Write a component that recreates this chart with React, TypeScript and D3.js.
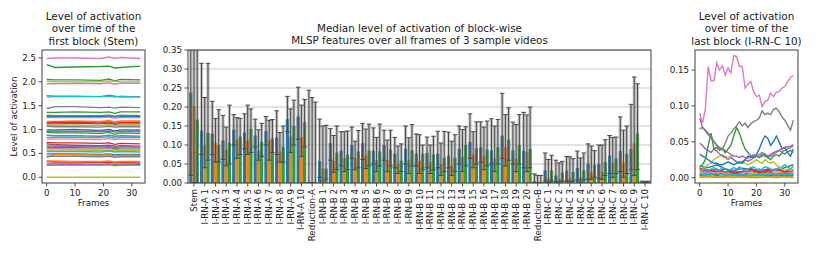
import React from "react";
import * as d3 from "d3";

// ---------------- Middle chart data ----------------
const CATEGORIES = [
  "Stem",
  "I-RN-A 1", "I-RN-A 2", "I-RN-A 3", "I-RN-A 4", "I-RN-A 5", "I-RN-A 6", "I-RN-A 7", "I-RN-A 8", "I-RN-A 9", "I-RN-A 10",
  "Reduction-A",
  "I-RN-B 1", "I-RN-B 2", "I-RN-B 3", "I-RN-B 4", "I-RN-B 5", "I-RN-B 6", "I-RN-B 7", "I-RN-B 8", "I-RN-B 9", "I-RN-B 10",
  "I-RN-B 11", "I-RN-B 12", "I-RN-B 13", "I-RN-B 14", "I-RN-B 15", "I-RN-B 16", "I-RN-B 17", "I-RN-B 18", "I-RN-B 19", "I-RN-B 20",
  "Reduction-B",
  "I-RN-C 1", "I-RN-C 2", "I-RN-C 3", "I-RN-C 4", "I-RN-C 5", "I-RN-C 6", "I-RN-C 7", "I-RN-C 8", "I-RN-C 9", "I-RN-C 10",
];

const MEDIAN_V1 = [0.238, 0.138, 0.130, 0.112, 0.140, 0.133, 0.125, 0.137, 0.120, 0.168, 0.175, 0.003,
  0.058, 0.105, 0.085, 0.100, 0.105, 0.085, 0.100, 0.077, 0.090, 0.077, 0.079, 0.077, 0.072, 0.090, 0.108, 0.094, 0.086, 0.125, 0.086, 0.085,
  0.005, 0.033, 0.020, 0.033, 0.040, 0.051, 0.050, 0.072, 0.084, 0.090, 0.001];
const MEDIAN_V2 = [0.203, 0.100, 0.105, 0.088, 0.115, 0.112, 0.085, 0.112, 0.083, 0.122, 0.120, 0.002,
  0.038, 0.058, 0.065, 0.065, 0.072, 0.060, 0.060, 0.050, 0.060, 0.058, 0.055, 0.050, 0.045, 0.069, 0.075, 0.072, 0.064, 0.094, 0.064, 0.081,
  0.002, 0.012, 0.010, 0.012, 0.015, 0.028, 0.030, 0.053, 0.055, 0.104, 0.001];
const MEDIAN_V3 = [0.167, 0.132, 0.100, 0.106, 0.122, 0.142, 0.108, 0.117, 0.095, 0.150, 0.160, 0.002,
  0.038, 0.080, 0.075, 0.083, 0.085, 0.083, 0.088, 0.059, 0.086, 0.077, 0.075, 0.066, 0.066, 0.100, 0.092, 0.088, 0.094, 0.114, 0.100, 0.090,
  0.003, 0.033, 0.028, 0.029, 0.033, 0.047, 0.055, 0.064, 0.077, 0.130, 0.001];

const HIGH_V1 = [0.45, 0.315, 0.215, 0.178, 0.180, 0.182, 0.168, 0.175, 0.190, 0.228, 0.252, 0.244,
  0.168, 0.143, 0.135, 0.147, 0.157, 0.145, 0.139, 0.120, 0.150, 0.129, 0.121, 0.136, 0.134, 0.150, 0.182, 0.161, 0.169, 0.236, 0.160, 0.186,
  0.024, 0.079, 0.060, 0.070, 0.084, 0.103, 0.100, 0.125, 0.174, 0.207, 0.005];
const HIGH_V2 = [0.42, 0.225, 0.170, 0.147, 0.172, 0.205, 0.140, 0.165, 0.133, 0.195, 0.205, 0.225,
  0.150, 0.125, 0.135, 0.110, 0.142, 0.120, 0.113, 0.097, 0.119, 0.127, 0.100, 0.105, 0.110, 0.141, 0.135, 0.147, 0.150, 0.180, 0.154, 0.179,
  0.020, 0.062, 0.053, 0.069, 0.066, 0.097, 0.100, 0.120, 0.139, 0.279, 0.004];
const HIGH_V3 = [0.40, 0.315, 0.193, 0.205, 0.170, 0.195, 0.157, 0.167, 0.150, 0.218, 0.220, 0.213,
  0.152, 0.150, 0.137, 0.138, 0.155, 0.155, 0.139, 0.103, 0.154, 0.100, 0.123, 0.136, 0.127, 0.148, 0.161, 0.163, 0.167, 0.198, 0.180, 0.200,
  0.020, 0.073, 0.057, 0.064, 0.079, 0.085, 0.114, 0.121, 0.150, 0.261, 0.005];

const LOW_V1 = [0.020, 0.075, 0.075, 0.062, 0.100, 0.090, 0.095, 0.100, 0.075, 0.135, 0.115, 0.0,
  0.015, 0.060, 0.045, 0.065, 0.062, 0.050, 0.060, 0.040, 0.050, 0.045, 0.040, 0.040, 0.040, 0.050, 0.065, 0.055, 0.050, 0.065, 0.050, 0.040,
  0.0, 0.005, 0.003, 0.005, 0.008, 0.010, 0.012, 0.025, 0.030, 0.035, 0.0];
const LOW_V2 = [0.0, 0.040, 0.055, 0.045, 0.065, 0.075, 0.060, 0.060, 0.055, 0.080, 0.070, 0.0,
  0.005, 0.028, 0.030, 0.035, 0.038, 0.030, 0.030, 0.025, 0.025, 0.025, 0.025, 0.020, 0.020, 0.030, 0.040, 0.035, 0.030, 0.045, 0.030, 0.030,
  0.0, 0.002, 0.002, 0.003, 0.003, 0.010, 0.010, 0.015, 0.015, 0.020, 0.0];
const LOW_V3 = [0.0, 0.060, 0.055, 0.050, 0.075, 0.080, 0.070, 0.080, 0.055, 0.100, 0.095, 0.0,
  0.010, 0.035, 0.035, 0.040, 0.045, 0.045, 0.045, 0.030, 0.045, 0.035, 0.035, 0.030, 0.030, 0.045, 0.050, 0.045, 0.050, 0.060, 0.050, 0.040,
  0.0, 0.005, 0.005, 0.005, 0.008, 0.015, 0.020, 0.025, 0.025, 0.035, 0.0];

const MID_Y_TICKS = [0, 0.05, 0.1, 0.15, 0.2, 0.25, 0.3, 0.35];

// ---------------- Left chart data (Stem, per-channel over frames) ----------------
const LEFT_FRAMES = [0, 3, 10, 19, 22, 24, 26, 33];
const LEFT_SERIES: number[][] = [
  [2.49, 2.50, 2.50, 2.49, 2.52, 2.49, 2.51, 2.49],
  [2.36, 2.30, 2.31, 2.32, 2.33, 2.29, 2.30, 2.33],
  [2.05, 2.04, 2.04, 2.03, 2.06, 2.02, 2.05, 2.04],
  [2.01, 2.00, 2.00, 2.00, 2.02, 2.01, 2.00, 2.00],
  [1.96, 1.96, 1.97, 1.96, 1.98, 1.95, 1.97, 1.97],
  [1.71, 1.70, 1.70, 1.69, 1.72, 1.70, 1.68, 1.69],
  [1.68, 1.69, 1.69, 1.69, 1.70, 1.68, 1.70, 1.68],
  [1.44, 1.48, 1.48, 1.46, 1.47, 1.45, 1.47, 1.46],
  [1.36, 1.36, 1.37, 1.36, 1.37, 1.34, 1.37, 1.37],
  [1.30, 1.29, 1.29, 1.29, 1.30, 1.28, 1.30, 1.29],
  [1.27, 1.27, 1.27, 1.27, 1.28, 1.26, 1.27, 1.28],
  [1.25, 1.25, 1.25, 1.25, 1.26, 1.24, 1.25, 1.25],
  [1.17, 1.17, 1.18, 1.17, 1.19, 1.16, 1.18, 1.18],
  [1.14, 1.15, 1.15, 1.14, 1.16, 1.13, 1.15, 1.15],
  [1.12, 1.12, 1.13, 1.12, 1.13, 1.11, 1.12, 1.12],
  [1.09, 1.09, 1.09, 1.08, 1.10, 1.08, 1.09, 1.09],
  [1.07, 1.06, 1.06, 1.05, 1.07, 1.05, 1.06, 1.06],
  [0.99, 0.99, 1.00, 0.98, 1.00, 0.97, 0.99, 0.99],
  [0.96, 0.96, 0.96, 0.96, 0.97, 0.95, 0.96, 0.96],
  [0.94, 0.93, 0.93, 0.92, 0.94, 0.90, 0.93, 0.92],
  [0.88, 0.87, 0.87, 0.86, 0.88, 0.86, 0.87, 0.86],
  [0.83, 0.84, 0.84, 0.83, 0.85, 0.82, 0.84, 0.84],
  [0.80, 0.80, 0.80, 0.79, 0.81, 0.79, 0.80, 0.80],
  [0.73, 0.72, 0.72, 0.71, 0.72, 0.69, 0.71, 0.70],
  [0.70, 0.68, 0.67, 0.66, 0.67, 0.65, 0.66, 0.65],
  [0.66, 0.65, 0.65, 0.64, 0.65, 0.63, 0.64, 0.64],
  [0.63, 0.62, 0.62, 0.61, 0.62, 0.60, 0.61, 0.61],
  [0.60, 0.60, 0.59, 0.59, 0.60, 0.58, 0.59, 0.59],
  [0.57, 0.57, 0.57, 0.56, 0.57, 0.55, 0.56, 0.56],
  [0.54, 0.54, 0.54, 0.53, 0.55, 0.53, 0.54, 0.53],
  [0.49, 0.49, 0.49, 0.48, 0.49, 0.47, 0.48, 0.48],
  [0.41, 0.48, 0.47, 0.46, 0.47, 0.45, 0.46, 0.46],
  [0.44, 0.44, 0.44, 0.43, 0.44, 0.42, 0.43, 0.43],
  [0.33, 0.32, 0.32, 0.31, 0.32, 0.30, 0.31, 0.30],
  [0.34, 0.34, 0.33, 0.33, 0.34, 0.32, 0.33, 0.33],
  [0.28, 0.28, 0.28, 0.27, 0.28, 0.26, 0.27, 0.27],
  [0.25, 0.25, 0.25, 0.25, 0.26, 0.24, 0.25, 0.25],
  [0.26, 0.26, 0.27, 0.26, 0.27, 0.25, 0.26, 0.26],
  [0.00, 0.00, 0.00, 0.00, 0.00, 0.00, 0.00, 0.00],
];
// tab10 colour index per left series
const LEFT_COLOR_IDX = [6, 2, 2, 8, 6, 4, 9, 7, 2, 4, 0, 6, 1, 3, 5, 8, 7, 0, 4, 2, 7, 9, 6, 3, 5, 4, 2, 6, 8, 9, 0, 1, 7, 3, 1, 2, 8, 4, 8];
const LEFT_Y_TICKS = [0, 0.5, 1.0, 1.5, 2.0, 2.5];
const FRAME_TICKS = [0, 10, 20, 30];

// ---------------- Right chart data (I-RN-C 10) ----------------
const RIGHT_FRAMES_FULL = d3.range(34);
const RIGHT_PINK = [0.090, 0.076, 0.095, 0.155, 0.135, 0.135, 0.160, 0.150, 0.156, 0.143, 0.153, 0.146, 0.170, 0.169, 0.155, 0.155, 0.125,
  0.130, 0.134, 0.120, 0.113, 0.115, 0.099, 0.106, 0.108, 0.118, 0.113, 0.119, 0.120, 0.125, 0.127, 0.134, 0.140, 0.142];
const RIGHT_GREY = [0.068, 0.070, 0.066, 0.062, 0.058, 0.050, 0.046, 0.042, 0.040, 0.048, 0.058, 0.062, 0.068, 0.072, 0.078, 0.072, 0.076,
  0.070, 0.075, 0.078, 0.080, 0.083, 0.093, 0.088, 0.090, 0.088, 0.095, 0.097, 0.092, 0.085, 0.080, 0.073, 0.066, 0.080];
const RIGHT_PURPLE_A = [0.083, 0.070, 0.065, 0.060, 0.055, 0.050, 0.045, 0.040, 0.040, 0.038, 0.035, 0.032, 0.030, 0.030, 0.028, 0.030, 0.028,
  0.027, 0.030, 0.032, 0.030, 0.032, 0.035, 0.033, 0.030, 0.032, 0.035, 0.037, 0.038, 0.040, 0.042, 0.043, 0.044, 0.046];
const RIGHT_PURPLE_B = [0.048, 0.045, 0.040, 0.038, 0.035, 0.040, 0.037, 0.033, 0.030, 0.028, 0.025, 0.028, 0.025, 0.022, 0.020, 0.022, 0.025,
  0.023, 0.025, 0.027, 0.030, 0.028, 0.030, 0.032, 0.028, 0.030, 0.033, 0.035, 0.038, 0.036, 0.038, 0.040, 0.042, 0.044];
const RIGHT_GREEN = [0.015, 0.018, 0.025, 0.045, 0.062, 0.040, 0.042, 0.038, 0.040, 0.035, 0.040, 0.045, 0.058, 0.070, 0.062, 0.050, 0.040,
  0.035, 0.030, 0.028, 0.030, 0.028, 0.032, 0.030, 0.028, 0.025, 0.030, 0.032, 0.030, 0.035, 0.033, 0.036, 0.038, 0.035];
const RIGHT_BLUE = [0.033, 0.030, 0.028, 0.025, 0.022, 0.020, 0.020, 0.018, 0.018, 0.020, 0.022, 0.020, 0.018, 0.020, 0.022, 0.020, 0.025,
  0.030, 0.028, 0.030, 0.032, 0.040, 0.050, 0.058, 0.055, 0.045, 0.050, 0.058, 0.050, 0.040, 0.042, 0.035, 0.030, 0.040];
const RIGHT_OLIVE = [0.010, 0.012, 0.015, 0.018, 0.020, 0.025, 0.028, 0.030, 0.032, 0.030, 0.028, 0.030, 0.025, 0.022, 0.020, 0.022, 0.020,
  0.018, 0.020, 0.022, 0.025, 0.022, 0.020, 0.025, 0.022, 0.020, 0.022, 0.018, 0.015, 0.012, 0.010, 0.012, 0.010, 0.012];
const RIGHT_CYAN = [0.017, 0.015, 0.012, 0.010, 0.012, 0.014, 0.012, 0.010, 0.015, 0.012, 0.010, 0.012, 0.014, 0.012, 0.015, 0.012, 0.010,
  0.012, 0.014, 0.015, 0.012, 0.010, 0.012, 0.015, 0.014, 0.012, 0.010, 0.012, 0.014, 0.015, 0.018, 0.015, 0.012, 0.016];

const RIGHT_FRAMES_SPARSE = [0, 3, 6, 9, 12, 15, 18, 21, 24, 27, 30, 33];
const RIGHT_SMALL: number[][] = [
  [0.010, 0.008, 0.012, 0.006, 0.009, 0.007, 0.010, 0.006, 0.008, 0.005, 0.007, 0.006],
  [0.006, 0.010, 0.005, 0.008, 0.004, 0.007, 0.005, 0.009, 0.004, 0.006, 0.008, 0.005],
  [0.003, 0.005, 0.004, 0.006, 0.003, 0.004, 0.002, 0.005, 0.003, 0.004, 0.003, 0.004],
  [0.016, 0.014, 0.018, 0.012, 0.010, 0.013, 0.011, 0.009, 0.012, 0.010, 0.014, 0.018],
  [0.012, 0.009, 0.011, 0.008, 0.010, 0.007, 0.009, 0.012, 0.008, 0.010, 0.009, 0.011],
  [0.004, 0.006, 0.003, 0.005, 0.007, 0.004, 0.006, 0.003, 0.005, 0.004, 0.006, 0.003],
  [0.008, 0.006, 0.009, 0.005, 0.007, 0.008, 0.006, 0.004, 0.006, 0.005, 0.007, 0.008],
  [0.002, 0.003, 0.001, 0.002, 0.003, 0.002, 0.001, 0.003, 0.002, 0.001, 0.002, 0.002],
  [0.001, 0.002, 0.001, 0.001, 0.002, 0.001, 0.001, 0.002, 0.001, 0.001, 0.001, 0.001],
  [0.005, 0.004, 0.006, 0.003, 0.005, 0.004, 0.003, 0.005, 0.004, 0.006, 0.004, 0.005],
  [0.013, 0.011, 0.008, 0.012, 0.006, 0.009, 0.013, 0.007, 0.010, 0.012, 0.008, 0.010],
  [0.000, 0.001, 0.000, 0.001, 0.000, 0.001, 0.000, 0.000, 0.001, 0.000, 0.001, 0.000],
];
const RIGHT_SMALL_COLOR_IDX = [3, 1, 5, 0, 4, 2, 6, 7, 8, 9, 3, 1];
const RIGHT_Y_TICKS = [0, 0.05, 0.1, 0.15];

const TAB10 = ["#1f77b4", "#ff7f0e", "#2ca02c", "#d62728", "#9467bd", "#8c564b", "#e377c2", "#7f7f7f", "#bcbd22", "#17becf"];

const FONT = "DejaVu Sans, Liberation Sans, sans-serif";
const TICK_FS = 8.7;
const TITLE_FS = 10.4;
const TXT = "#222";
const SPINE = "#3c3c3c";

const TOP = 50;
const BOTTOM = 183;

function Frame({ x0, x1 }: { x0: number; x1: number }) {
  return <rect x={x0} y={TOP} width={x1 - x0} height={BOTTOM - TOP} fill="none" stroke={SPINE} strokeWidth={1} />;
}

function Title({ cx, lines, y0 }: { cx: number; lines: string[]; y0: number }) {
  return (
    <text x={cx} y={y0} textAnchor="middle" fontFamily={FONT} fontSize={TITLE_FS} fill={TXT}>
      {lines.map((l, i) => (
        <tspan key={i} x={cx} dy={i === 0 ? 0 : 12.4}>
          {l}
        </tspan>
      ))}
    </text>
  );
}

export default function App() {
  // ---- Left panel ----
  const lx0 = 42, lx1 = 145;
  const lxs = d3.scaleLinear().domain([-1.65, 34.65]).range([lx0, lx1]);
  const lys = d3.scaleLinear().domain([-0.12, 2.667]).range([BOTTOM, TOP]);
  const leftLine = d3
    .line<[number, number]>()
    .x((d) => lxs(d[0]))
    .y((d) => lys(d[1]));

  // ---- Middle panel ----
  const mx0 = 188, mx1 = 651;
  const mxs = d3.scaleLinear().domain([-0.56, CATEGORIES.length - 1 + 0.56]).range([mx0, mx1]);
  const mys = d3.scaleLinear().domain([0, 0.35]).range([BOTTOM, TOP]);
  const bw = 0.3;
  const videos = [
    { med: MEDIAN_V1, lo: LOW_V1, hi: HIGH_V1, color: TAB10[0], off: -bw },
    { med: MEDIAN_V2, lo: LOW_V2, hi: HIGH_V2, color: TAB10[1], off: 0 },
    { med: MEDIAN_V3, lo: LOW_V3, hi: HIGH_V3, color: TAB10[2], off: bw },
  ];

  // ---- Right panel ----
  const rx0 = 695, rx1 = 798;
  const rxs = d3.scaleLinear().domain([-1.65, 34.65]).range([rx0, rx1]);
  const rys = d3.scaleLinear().domain([-0.0075, 0.178]).range([BOTTOM, TOP]);
  const rightLine = d3
    .line<[number, number]>()
    .x((d) => rxs(d[0]))
    .y((d) => rys(d[1]));
  const rightFull = [
    { v: RIGHT_CYAN, c: TAB10[9] },
    { v: RIGHT_OLIVE, c: TAB10[8] },
    { v: RIGHT_PURPLE_B, c: TAB10[4] },
    { v: RIGHT_BLUE, c: TAB10[0] },
    { v: RIGHT_GREEN, c: TAB10[2] },
    { v: RIGHT_PURPLE_A, c: TAB10[4] },
    { v: RIGHT_GREY, c: TAB10[7] },
    { v: RIGHT_PINK, c: TAB10[6] },
  ];

  return (
    <svg
      width={822}
      height={253}
      style={{ position: "absolute", left: 0, top: 0, background: "#fff" }}
      fontFamily={FONT}
    >
      <defs>
        <clipPath id="clipL">
          <rect x={lx0} y={TOP} width={lx1 - lx0} height={BOTTOM - TOP} />
        </clipPath>
        <clipPath id="clipM">
          <rect x={mx0} y={TOP} width={mx1 - mx0} height={BOTTOM - TOP} />
        </clipPath>
        <clipPath id="clipR">
          <rect x={rx0} y={TOP} width={rx1 - rx0} height={BOTTOM - TOP} />
        </clipPath>
      </defs>
      <rect x={0} y={0} width={822} height={253} fill="#fff" />

      {/* ================= Left panel ================= */}
      <Title cx={(lx0 + lx1) / 2} y0={20} lines={["Level of activation", "over time of the", "first block (Stem)"]} />
      <g clipPath="url(#clipL)">
        {LEFT_SERIES.map((s, i) => (
          <path
            key={i}
            d={leftLine(s.map((v, j) => [LEFT_FRAMES[j], v] as [number, number])) || ""}
            fill="none"
            stroke={TAB10[LEFT_COLOR_IDX[i] % 10]}
            strokeWidth={1.4}
          />
        ))}
      </g>
      <Frame x0={lx0} x1={lx1} />
      {LEFT_Y_TICKS.map((t) => (
        <g key={t}>
          <line x1={lx0 - 3.5} x2={lx0} y1={lys(t)} y2={lys(t)} stroke={SPINE} strokeWidth={0.9} />
          <text x={lx0 - 6} y={lys(t)} dy="0.35em" textAnchor="end" fontSize={TICK_FS} fill={TXT}>
            {t.toFixed(1)}
          </text>
        </g>
      ))}
      {FRAME_TICKS.map((t) => (
        <g key={t}>
          <line x1={lxs(t)} x2={lxs(t)} y1={BOTTOM} y2={BOTTOM + 3.5} stroke={SPINE} strokeWidth={0.9} />
          <text x={lxs(t)} y={BOTTOM + 13} textAnchor="middle" fontSize={TICK_FS} fill={TXT}>
            {t}
          </text>
        </g>
      ))}
      <text x={(lx0 + lx1) / 2} y={206} textAnchor="middle" fontSize={TICK_FS} fill={TXT}>
        Frames
      </text>
      <text
        transform={`translate(17,${(TOP + BOTTOM) / 2}) rotate(-90)`}
        textAnchor="middle"
        fontSize={TICK_FS}
        fill={TXT}
      >
        Level of activation
      </text>

      {/* ================= Middle panel ================= */}
      <Title
        cx={(mx0 + mx1) / 2}
        y0={32}
        lines={["Median level of activation of block-wise", "MLSP features over all frames of 3 sample videos"]}
      />
      {MID_Y_TICKS.map((t) => (
        <line key={"g" + t} x1={mx0} x2={mx1} y1={mys(t)} y2={mys(t)} stroke="#c8c8c8" strokeWidth={1} />
      ))}
      <g clipPath="url(#clipM)">
        {videos.map((vd, k) => (
          <g key={"b" + k}>
            {CATEGORIES.map((c, i) => {
              const xa = mxs(i + vd.off - bw / 2);
              const xb = mxs(i + vd.off + bw / 2);
              return (
                <rect key={c} x={xa} y={mys(vd.med[i])} width={xb - xa} height={mys(0) - mys(vd.med[i])} fill={vd.color} />
              );
            })}
          </g>
        ))}
        {videos.map((vd, k) => (
          <g key={"r" + k}>
            {CATEGORIES.map((c, i) => {
              const xa = mxs(i + vd.off - bw / 2);
              const xb = mxs(i + vd.off + bw / 2);
              return (
                <rect
                  key={c}
                  x={xa}
                  y={mys(vd.hi[i])}
                  width={xb - xa}
                  height={mys(vd.lo[i]) - mys(vd.hi[i])}
                  fill="#808080"
                  fillOpacity={0.45}
                />
              );
            })}
          </g>
        ))}
        {videos.map((vd, k) => (
          <g key={"e" + k} stroke="#474747" strokeWidth={1}>
            {CATEGORIES.map((c, i) => {
              const xc = mxs(i + vd.off);
              const yh = mys(vd.hi[i]);
              const yl = mys(vd.lo[i]);
              return (
                <g key={c}>
                  <line x1={xc} x2={xc} y1={yh} y2={yl} />
                  <line x1={xc - 2.3} x2={xc + 2.3} y1={yh} y2={yh} />
                  <line x1={xc - 2.3} x2={xc + 2.3} y1={yl} y2={yl} />
                </g>
              );
            })}
          </g>
        ))}
      </g>
      <Frame x0={mx0} x1={mx1} />
      {MID_Y_TICKS.map((t) => (
        <g key={t}>
          <line x1={mx0 - 3.5} x2={mx0} y1={mys(t)} y2={mys(t)} stroke={SPINE} strokeWidth={0.9} />
          <text x={mx0 - 6} y={mys(t)} dy="0.35em" textAnchor="end" fontSize={TICK_FS} fill={TXT}>
            {t.toFixed(2)}
          </text>
        </g>
      ))}
      {CATEGORIES.map((c, i) => (
        <g key={c}>
          <line x1={mxs(i)} x2={mxs(i)} y1={BOTTOM} y2={BOTTOM + 3.5} stroke={SPINE} strokeWidth={0.9} />
          <text
            transform={`translate(${mxs(i)},${BOTTOM + 6}) rotate(-90)`}
            dy="0.35em"
            textAnchor="end"
            fontSize={TICK_FS}
            fill={TXT}
          >
            {c}
          </text>
        </g>
      ))}

      {/* ================= Right panel ================= */}
      <Title cx={(rx0 + rx1) / 2} y0={20} lines={["Level of activation", "over time of the", "last block (I-RN-C 10)"]} />
      <g clipPath="url(#clipR)">
        {RIGHT_SMALL.map((s, i) => (
          <path
            key={"s" + i}
            d={rightLine(s.map((v, j) => [RIGHT_FRAMES_SPARSE[j], v] as [number, number])) || ""}
            fill="none"
            stroke={TAB10[RIGHT_SMALL_COLOR_IDX[i]]}
            strokeWidth={1.4}
          />
        ))}
        {rightFull.map((s, i) => (
          <path
            key={"f" + i}
            d={rightLine(s.v.map((v, j) => [RIGHT_FRAMES_FULL[j], v] as [number, number])) || ""}
            fill="none"
            stroke={s.c}
            strokeWidth={1.4}
          />
        ))}
      </g>
      <Frame x0={rx0} x1={rx1} />
      {RIGHT_Y_TICKS.map((t) => (
        <g key={t}>
          <line x1={rx0 - 3.5} x2={rx0} y1={rys(t)} y2={rys(t)} stroke={SPINE} strokeWidth={0.9} />
          <text x={rx0 - 6} y={rys(t)} dy="0.35em" textAnchor="end" fontSize={TICK_FS} fill={TXT}>
            {t.toFixed(2)}
          </text>
        </g>
      ))}
      {FRAME_TICKS.map((t) => (
        <g key={t}>
          <line x1={rxs(t)} x2={rxs(t)} y1={BOTTOM} y2={BOTTOM + 3.5} stroke={SPINE} strokeWidth={0.9} />
          <text x={rxs(t)} y={BOTTOM + 13} textAnchor="middle" fontSize={TICK_FS} fill={TXT}>
            {t}
          </text>
        </g>
      ))}
      <text x={(rx0 + rx1) / 2} y={206} textAnchor="middle" fontSize={TICK_FS} fill={TXT}>
        Frames
      </text>
    </svg>
  );
}
